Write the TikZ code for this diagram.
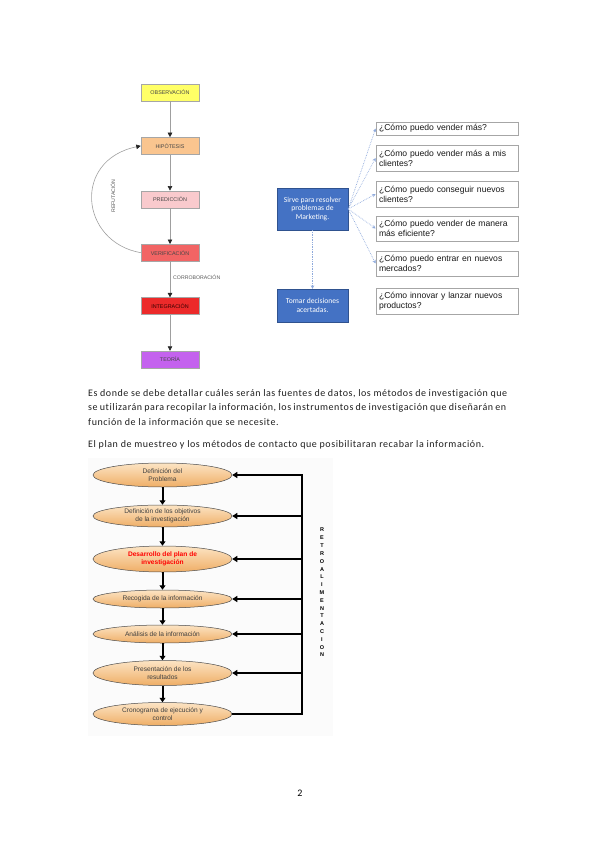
\documentclass[tikz,border=0pt]{standalone}
\usepackage{fontspec}
\setmainfont{Carlito}
\newfontfamily\arialfont{Liberation Sans}
\newfontfamily\bodyfont[LetterSpace=5.5,Ligatures=NoCommon]{Carlito}
\usetikzlibrary{arrows.meta,positioning,shapes.geometric}

\definecolor{obscol}{HTML}{FFFF66}
\definecolor{hipcol}{HTML}{FAC58F}
\definecolor{precol}{HTML}{F9CACD}
\definecolor{vercol}{HTML}{F26464}
\definecolor{intcol}{HTML}{EC2A2A}
\definecolor{teocol}{HTML}{C462EE}
\definecolor{mkblue}{HTML}{4472C4}
\definecolor{mkedge}{HTML}{2F528F}
\definecolor{mkdot}{HTML}{8FAADC}
\definecolor{peachtop}{HTML}{FCE4C4}
\definecolor{peachbot}{HTML}{EFAE66}
\definecolor{bodytext}{HTML}{1E1E1E}

\begin{document}
\begin{tikzpicture}[x=1pt,y=-1pt,
    node distance=36pt,
    stage/.style={rectangle, draw=gray!70, minimum width=58pt, minimum height=17pt, inner sep=0pt,
                  font=\arialfont\fontsize{5.4}{6}\selectfont, text=black!72},
    flow/.style={-{Triangle[length=4.5pt,width=4.5pt,color=black!85]}, draw=gray!75, line width=0.6pt},
    tag/.style={inner sep=0pt, font=\arialfont\fontsize{5.2}{6}\selectfont, text=black!65},
    bluebox/.style={rectangle, draw=mkedge, fill=mkblue, text=white, minimum width=71pt, align=center,
                    inner sep=0pt, font=\fontsize{7.6}{8.8}\selectfont},
    question/.style={rectangle, draw=gray!70, line width=0.8pt, fill=white, text width=136pt, minimum width=142pt,
                     inner xsep=3pt, inner ysep=0pt, align=left, font=\arialfont\fontsize{8.6}{10}\selectfont, text=black!90},
    dotarrow/.style={densely dotted, draw=mkdot, line width=0.7pt, -{Stealth[length=3.5pt,width=3.5pt]}},
    phase/.style={ellipse, draw=gray!60!black, line width=0.5pt, top color=peachtop, bottom color=peachbot,
                  minimum width=139pt, inner sep=0pt, align=center, font=\arialfont\fontsize{6.6}{8}\selectfont, text=black!75},
    down/.style={-{Triangle[length=4.5pt,width=6pt]}, line width=2pt},
    feed/.style={-{Triangle[length=5pt,width=6pt]}, line width=1.6pt},
    bodyline/.style={anchor=base west, inner sep=0pt, font=\bodyfont\fontsize{10}{12}\selectfont, text=bodytext}
  ]
    \useasboundingbox (0,0) rectangle (599,848);

    % metodo cientifico
    \node[stage, fill=obscol] (obs) at (170,92.5) {OBSERVACIÓN};
    \node[stage, fill=hipcol, below=of obs] (hip) {HIPÓTESIS};
    \node[stage, fill=precol, below=of hip] (pred) {PREDICCIÓN};
    \node[stage, fill=vercol, below=of pred] (verif) {VERIFICACIÓN};
    \node[stage, fill=intcol, text=black!80!red, below=of verif] (integ) {INTEGRACIÓN};
    \node[stage, fill=teocol, below=of integ] (teo) {TEORÍA};
    \draw[flow] (obs) -- (hip);
    \draw[flow] (hip) -- (pred);
    \draw[flow] (pred) -- (verif);
    \draw[flow] (verif) -- (integ);
    \draw[flow] (integ) -- (teo);
    \draw[flow] (verif.west) .. controls (80,242) and (72,160) .. (hip.west);
    \node[tag, rotate=90] (refut) at (113,196) {REFUTACIÓN};
    \node[tag, anchor=west] (corrob) at (173,277) {CORROBORACIÓN};

    % marketing
    \node[bluebox, minimum height=42pt] (sirve) at (312.5,209) {Sirve para resolver\\problemas de\\Marketing.};
    \node[bluebox, minimum height=33pt] (tomar) at (312.5,305.5) {Tomar decisiones\\acertadas.};
    \node[question, minimum height=13pt] (q1) at (447,128.5) {¿Cómo puedo vender más?};
    \node[question, minimum height=26pt] (q2) at (447,158) {¿Cómo puedo vender más a mis\\clientes?};
    \node[question, minimum height=26pt] (q3) at (447,194) {¿Cómo puedo conseguir nuevos\\clientes?};
    \node[question, minimum height=25pt] (q4) at (447,228.5) {¿Cómo puedo vender de manera\\más eficiente?};
    \node[question, minimum height=25pt] (q5) at (447,263.5) {¿Cómo puedo entrar en nuevos\\mercados?};
    \node[question, minimum height=26pt] (q6) at (447,301) {¿Cómo innovar y lanzar nuevos\\productos?};
    \foreach \q in {q1,q2,q3,q4,q5}
      \draw[dotarrow] (sirve.east) -- (\q.west);
    \draw[dotarrow] (sirve) -- (tomar);

    % texto
    \node[bodyline] (par1) at (88,396) {\makebox[419pt][s]{Es donde se debe detallar cuáles serán las fuentes de datos, los métodos de investigación que}};
    \node[bodyline] (par2) at (88,410.5) {\makebox[418pt][s]{se utilizarán para recopilar la información, los instrumentos de investigación que diseñarán en}};
    \node[bodyline] (par3) at (88,425) {función de la información que se necesite.};
    \node[bodyline] (par4) at (88,447) {El plan de muestreo y los métodos de contacto que posibilitaran recabar la información.};

    % proceso de investigacion
    \fill[black!1.5] (88,458) rectangle (333,736);
    \node[phase, minimum height=24pt] (e1) at (162.5,475) {Definición del\\Problema};
    \node[phase, minimum height=22pt] (e2) at (162.5,516) {Definición de los objetivos\\de la investigación};
    \node[phase, minimum height=26pt, text=red, font=\arialfont\bfseries\fontsize{6.6}{8}\selectfont] (e3) at (162.5,559) {Desarrollo del plan de\\investigación};
    \node[phase, minimum height=18pt] (e4) at (162.5,599) {Recogida de la información};
    \node[phase, minimum height=18pt] (e5) at (162.5,634) {Análisis de la información};
    \node[phase, minimum height=25pt] (e6) at (162.5,673) {Presentación de los\\resultados};
    \node[phase, minimum height=23pt] (e7) at (162.5,714) {Cronograma de ejecución y\\control};
    \foreach \i/\j in {1/2,2/3,3/4,4/5,5/6,6/7}
      \draw[down] (e\i) -- (e\j);
    \foreach \i/\y in {1/475,2/516,3/559,4/599,5/634,6/673,7/714}
      \coordinate (bar\i) at (302,\y);
    \draw[feed] (e7.east) -- (bar7) -- (bar1) -- (e1.east);
    \foreach \i in {2,...,6}
      \draw[feed] (bar\i) -- (e\i.east);
    \node[align=center, inner sep=0pt, font=\arialfont\bfseries\fontsize{5.5}{7.8}\selectfont] (retro) at (322,592.5)
      {R\\E\\T\\R\\O\\A\\L\\I\\M\\E\\N\\T\\A\\C\\I\\O\\N};

    \node[inner sep=0pt, font=\fontsize{10}{12}\selectfont] (pagenum) at (300,793) {2};
  \end{tikzpicture}
\end{document}
